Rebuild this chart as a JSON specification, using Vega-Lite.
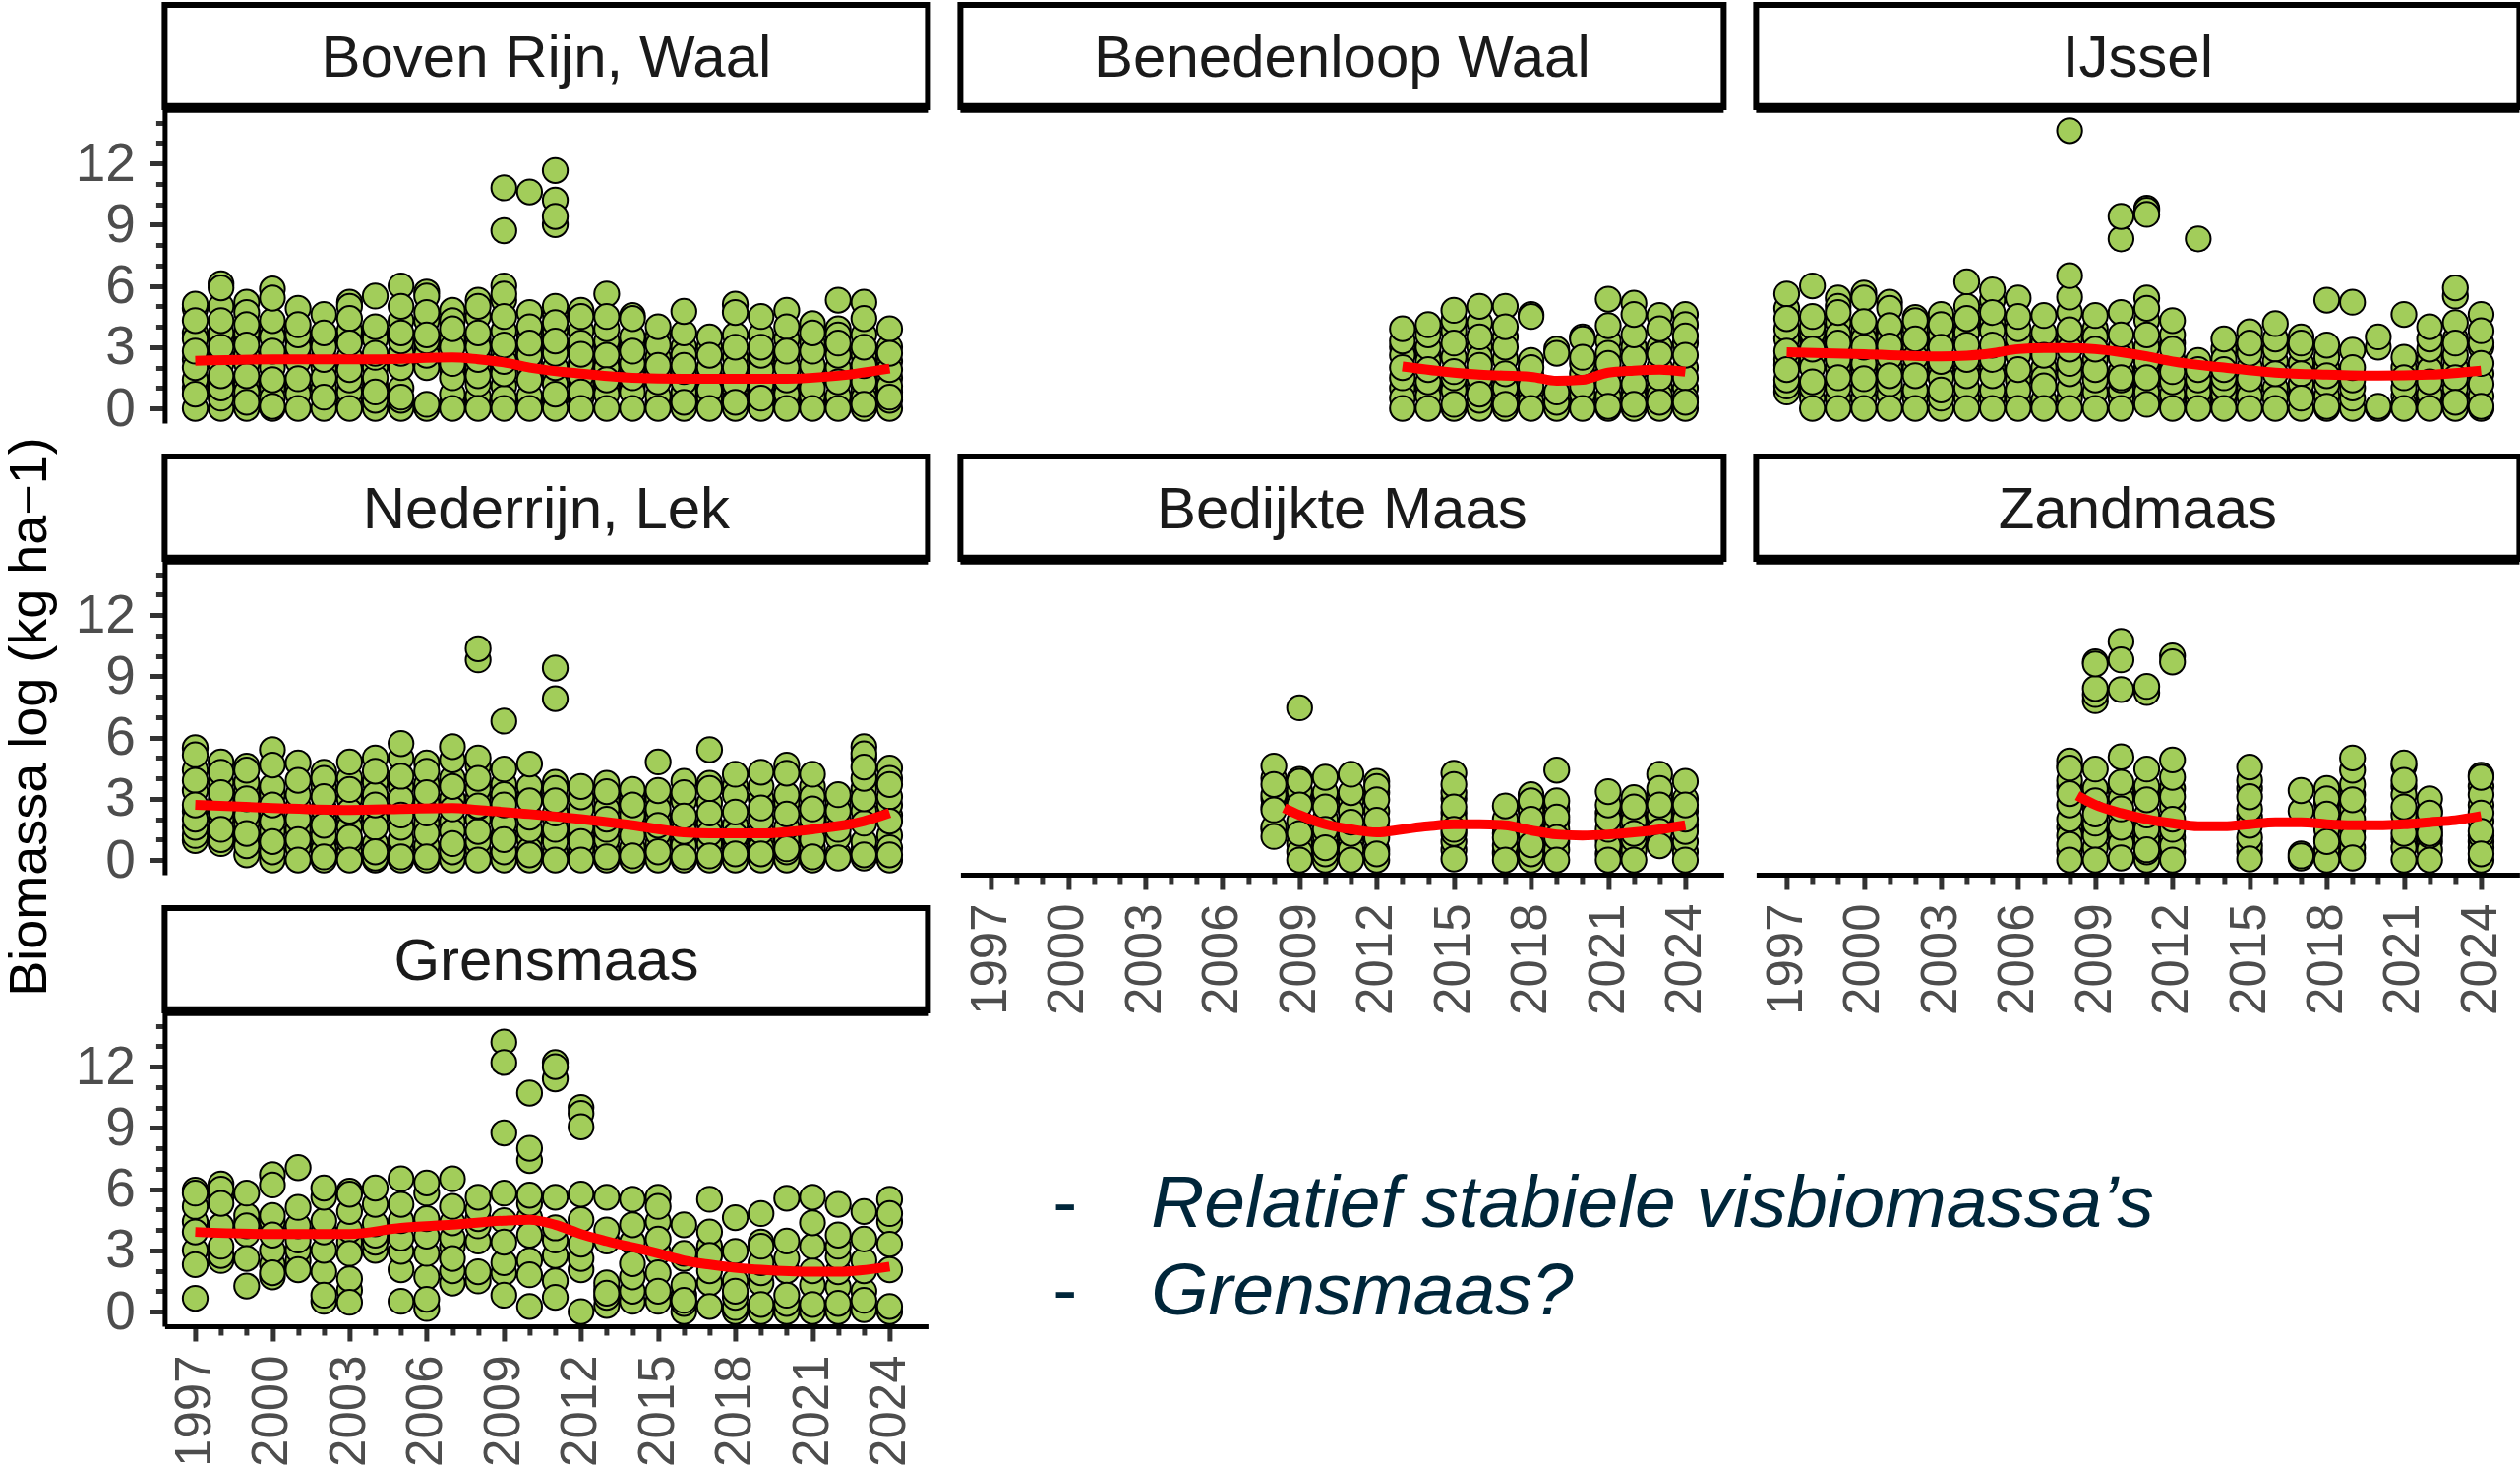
{"$schema":"https://vega.github.io/schema/vega-lite/v6.json","background":"white","padding":{"left":2.4,"top":2,"right":0,"bottom":0},"bounds":"flush","columns":3,"spacing":{"row":34,"column":33},"config":{"view":{"stroke":null},"font":"Liberation Sans"},
"datasets":{
"d1":[{"jaar":1997,"bio":1},{"jaar":1997,"bio":2.4},{"jaar":1997,"bio":3.7},{"jaar":1998,"bio":1.3},{"jaar":1998,"bio":2.6},{"jaar":1998,"bio":3.4},{"jaar":1999,"bio":1.2},{"jaar":1999,"bio":2.6},{"jaar":1999,"bio":3.4},{"jaar":2000,"bio":1},{"jaar":2000,"bio":2.4},{"jaar":2000,"bio":3.9},{"jaar":2001,"bio":1.1},{"jaar":2001,"bio":2.6},{"jaar":2001,"bio":3.3},{"jaar":2002,"bio":1},{"jaar":2002,"bio":2},{"jaar":2002,"bio":3.3},{"jaar":2003,"bio":0.3},{"jaar":2003,"bio":2.2},{"jaar":2003,"bio":3.5},{"jaar":2004,"bio":1.1},{"jaar":2004,"bio":2},{"jaar":2004,"bio":3.7},{"jaar":2005,"bio":1},{"jaar":2005,"bio":2.3},{"jaar":2005,"bio":4.3},{"jaar":2006,"bio":2.3},{"jaar":2006,"bio":3},{"jaar":2007,"bio":0.3},{"jaar":2007,"bio":1.9},{"jaar":2007,"bio":3.4},{"jaar":2008,"bio":0.3},{"jaar":2008,"bio":2},{"jaar":2008,"bio":3.4},{"jaar":2009,"bio":1.1},{"jaar":2009,"bio":2},{"jaar":2009,"bio":2.7},{"jaar":2010,"bio":0.3},{"jaar":2010,"bio":2.3},{"jaar":2010,"bio":3},{"jaar":2011,"bio":0.4},{"jaar":2011,"bio":1.6},{"jaar":2011,"bio":3},{"jaar":2012,"bio":1.2},{"jaar":2012,"bio":2},{"jaar":2012,"bio":3.8},{"jaar":2013,"bio":1},{"jaar":2013,"bio":2.3},{"jaar":2013,"bio":3},{"jaar":2014,"bio":1.1},{"jaar":2014,"bio":1.9},{"jaar":2014,"bio":3.2},{"jaar":2015,"bio":0.3},{"jaar":2015,"bio":1.7},{"jaar":2015,"bio":3.5},{"jaar":2016,"bio":0.5},{"jaar":2016,"bio":1.5},{"jaar":2016,"bio":3},{"jaar":2017,"bio":0.3},{"jaar":2017,"bio":1.5},{"jaar":2017,"bio":3},{"jaar":2018,"bio":0.8},{"jaar":2018,"bio":1.6},{"jaar":2018,"bio":2.5},{"jaar":2019,"bio":0.3},{"jaar":2019,"bio":0.8},{"jaar":2019,"bio":2.3},{"jaar":2020,"bio":0.3},{"jaar":2020,"bio":1.1},{"jaar":2020,"bio":2.5},{"jaar":2021,"bio":0.3},{"jaar":2021,"bio":1.7},{"jaar":2021,"bio":3.2},{"jaar":2022,"bio":0.3},{"jaar":2022,"bio":2},{"jaar":2022,"bio":3},{"jaar":2023,"bio":0.9},{"jaar":2023,"bio":1.7},{"jaar":2023,"bio":2.6},{"jaar":2024,"bio":0.8},{"jaar":2024,"bio":1.5},{"jaar":2024,"bio":2.3},
{"jaar":1997,"bio":0},{"jaar":1997,"bio":1.4},{"jaar":1997,"bio":2},{"jaar":1997,"bio":3.4},{"jaar":1997,"bio":4.9},{"jaar":1997,"bio":5.1},{"jaar":1997,"bio":4.3},{"jaar":1997,"bio":2.8},{"jaar":1997,"bio":0.7},
{"jaar":1998,"bio":0},{"jaar":1998,"bio":0.5},{"jaar":1998,"bio":1},{"jaar":1998,"bio":2.2},{"jaar":1998,"bio":3.7},{"jaar":1998,"bio":5},{"jaar":1998,"bio":6.1},{"jaar":1998,"bio":5.9},{"jaar":1998,"bio":4.3},{"jaar":1998,"bio":3},{"jaar":1998,"bio":1.6},
{"jaar":1999,"bio":0},{"jaar":1999,"bio":0.8},{"jaar":1999,"bio":2.2},{"jaar":1999,"bio":3.7},{"jaar":1999,"bio":5.2},{"jaar":1999,"bio":4.7},{"jaar":1999,"bio":4.1},{"jaar":1999,"bio":3.1},{"jaar":1999,"bio":1.6},{"jaar":1999,"bio":0.3},
{"jaar":2000,"bio":0},{"jaar":2000,"bio":0.5},{"jaar":2000,"bio":2},{"jaar":2000,"bio":3.5},{"jaar":2000,"bio":4.3},{"jaar":2000,"bio":5.85},{"jaar":2000,"bio":5.4},{"jaar":2000,"bio":2.8},{"jaar":2000,"bio":1.4},{"jaar":2000,"bio":0.1},
{"jaar":2001,"bio":0.7},{"jaar":2001,"bio":2.3},{"jaar":2001,"bio":3},{"jaar":2001,"bio":3.6},{"jaar":2001,"bio":4.9},{"jaar":2001,"bio":4.1},{"jaar":2001,"bio":1.45},{"jaar":2001,"bio":0},
{"jaar":2002,"bio":0},{"jaar":2002,"bio":1.5},{"jaar":2002,"bio":2.4},{"jaar":2002,"bio":3},{"jaar":2002,"bio":4.6},{"jaar":2002,"bio":3.7},{"jaar":2002,"bio":0.55},
{"jaar":2003,"bio":0.8},{"jaar":2003,"bio":1.4},{"jaar":2003,"bio":2.5},{"jaar":2003,"bio":3.8},{"jaar":2003,"bio":5.2},{"jaar":2003,"bio":5},{"jaar":2003,"bio":4.4},{"jaar":2003,"bio":3.2},{"jaar":2003,"bio":1.9},{"jaar":2003,"bio":0},
{"jaar":2004,"bio":0},{"jaar":2004,"bio":0.4},{"jaar":2004,"bio":1.5},{"jaar":2004,"bio":2.5},{"jaar":2004,"bio":3.4},{"jaar":2004,"bio":5.5},{"jaar":2004,"bio":4},{"jaar":2004,"bio":0.8},{"jaar":2004,"bio":2.7},
{"jaar":2005,"bio":0},{"jaar":2005,"bio":0.4},{"jaar":2005,"bio":2},{"jaar":2005,"bio":2.7},{"jaar":2005,"bio":3.3},{"jaar":2005,"bio":6},{"jaar":2005,"bio":5},{"jaar":2005,"bio":3.7},{"jaar":2005,"bio":0.55},
{"jaar":2006,"bio":0},{"jaar":2006,"bio":2},{"jaar":2006,"bio":2.6},{"jaar":2006,"bio":3.3},{"jaar":2006,"bio":4.3},{"jaar":2006,"bio":5.7},{"jaar":2006,"bio":5.5},{"jaar":2006,"bio":4.7},{"jaar":2006,"bio":3.6},{"jaar":2006,"bio":0.2},
{"jaar":2007,"bio":0.7},{"jaar":2007,"bio":1.5},{"jaar":2007,"bio":2.2},{"jaar":2007,"bio":3},{"jaar":2007,"bio":4.8},{"jaar":2007,"bio":4.3},{"jaar":2007,"bio":3.9},{"jaar":2007,"bio":0},
{"jaar":2008,"bio":0.6},{"jaar":2008,"bio":1.2},{"jaar":2008,"bio":1.6},{"jaar":2008,"bio":2.4},{"jaar":2008,"bio":3},{"jaar":2008,"bio":4.5},{"jaar":2008,"bio":5.3},{"jaar":2008,"bio":5},{"jaar":2008,"bio":3.7},{"jaar":2008,"bio":0},
{"jaar":2009,"bio":0.5},{"jaar":2009,"bio":1.7},{"jaar":2009,"bio":2.3},{"jaar":2009,"bio":3.8},{"jaar":2009,"bio":5.3},{"jaar":2009,"bio":6},{"jaar":2009,"bio":5.6},{"jaar":2009,"bio":4.5},{"jaar":2009,"bio":3.1},{"jaar":2009,"bio":0},{"jaar":2009,"bio":10.8},{"jaar":2009,"bio":8.7},
{"jaar":2010,"bio":0.6},{"jaar":2010,"bio":2},{"jaar":2010,"bio":2.6},{"jaar":2010,"bio":3.5},{"jaar":2010,"bio":4.7},{"jaar":2010,"bio":4},{"jaar":2010,"bio":3.2},{"jaar":2010,"bio":1.4},{"jaar":2010,"bio":0},{"jaar":2010,"bio":10.6},
{"jaar":2011,"bio":0},{"jaar":2011,"bio":1.2},{"jaar":2011,"bio":2},{"jaar":2011,"bio":2.7},{"jaar":2011,"bio":3.8},{"jaar":2011,"bio":4.6},{"jaar":2011,"bio":5},{"jaar":2011,"bio":4.2},{"jaar":2011,"bio":3.3},{"jaar":2011,"bio":0.7},{"jaar":2011,"bio":10.2},{"jaar":2011,"bio":9},{"jaar":2011,"bio":9.4},{"jaar":2011,"bio":11.65},
{"jaar":2012,"bio":0.5},{"jaar":2012,"bio":1.6},{"jaar":2012,"bio":2.2},{"jaar":2012,"bio":3.2},{"jaar":2012,"bio":4.8},{"jaar":2012,"bio":4.5},{"jaar":2012,"bio":2.65},{"jaar":2012,"bio":0.8},{"jaar":2012,"bio":0},
{"jaar":2013,"bio":0.7},{"jaar":2013,"bio":2},{"jaar":2013,"bio":3.3},{"jaar":2013,"bio":3.9},{"jaar":2013,"bio":5.6},{"jaar":2013,"bio":4.5},{"jaar":2013,"bio":2.6},{"jaar":2013,"bio":1.4},{"jaar":2013,"bio":0},
{"jaar":2014,"bio":0.8},{"jaar":2014,"bio":1.5},{"jaar":2014,"bio":2.2},{"jaar":2014,"bio":3.5},{"jaar":2014,"bio":4.55},{"jaar":2014,"bio":4.4},{"jaar":2014,"bio":2.8},{"jaar":2014,"bio":0},
{"jaar":2015,"bio":0.6},{"jaar":2015,"bio":1.3},{"jaar":2015,"bio":2.5},{"jaar":2015,"bio":3.1},{"jaar":2015,"bio":4},{"jaar":2015,"bio":2.1},{"jaar":2015,"bio":0},
{"jaar":2016,"bio":0},{"jaar":2016,"bio":0.8},{"jaar":2016,"bio":1.3},{"jaar":2016,"bio":1.8},{"jaar":2016,"bio":2.6},{"jaar":2016,"bio":3.7},{"jaar":2016,"bio":4.75},{"jaar":2016,"bio":2.1},{"jaar":2016,"bio":0.3},
{"jaar":2017,"bio":0.5},{"jaar":2017,"bio":1.1},{"jaar":2017,"bio":2},{"jaar":2017,"bio":3.5},{"jaar":2017,"bio":2.6},{"jaar":2017,"bio":0.9},{"jaar":2017,"bio":0},
{"jaar":2018,"bio":0},{"jaar":2018,"bio":0.4},{"jaar":2018,"bio":1.2},{"jaar":2018,"bio":2},{"jaar":2018,"bio":3.6},{"jaar":2018,"bio":5.1},{"jaar":2018,"bio":4.7},{"jaar":2018,"bio":3},{"jaar":2018,"bio":0.3},
{"jaar":2019,"bio":0},{"jaar":2019,"bio":1.2},{"jaar":2019,"bio":1.9},{"jaar":2019,"bio":2.6},{"jaar":2019,"bio":3.6},{"jaar":2019,"bio":4.5},{"jaar":2019,"bio":3},{"jaar":2019,"bio":0.5},
{"jaar":2020,"bio":0.7},{"jaar":2020,"bio":1.4},{"jaar":2020,"bio":2},{"jaar":2020,"bio":3.4},{"jaar":2020,"bio":4.8},{"jaar":2020,"bio":4},{"jaar":2020,"bio":2.8},{"jaar":2020,"bio":0},
{"jaar":2021,"bio":0.6},{"jaar":2021,"bio":1.3},{"jaar":2021,"bio":2.1},{"jaar":2021,"bio":2.8},{"jaar":2021,"bio":4.15},{"jaar":2021,"bio":3.7},{"jaar":2021,"bio":1},{"jaar":2021,"bio":0},
{"jaar":2022,"bio":0.6},{"jaar":2022,"bio":2.6},{"jaar":2022,"bio":3.9},{"jaar":2022,"bio":3.6},{"jaar":2022,"bio":5.3},{"jaar":2022,"bio":3.2},{"jaar":2022,"bio":1.3},{"jaar":2022,"bio":0},
{"jaar":2023,"bio":0},{"jaar":2023,"bio":0.5},{"jaar":2023,"bio":1.3},{"jaar":2023,"bio":2.1},{"jaar":2023,"bio":3.6},{"jaar":2023,"bio":5.2},{"jaar":2023,"bio":4.4},{"jaar":2023,"bio":3},{"jaar":2023,"bio":0.2},
{"jaar":2024,"bio":0},{"jaar":2024,"bio":0.4},{"jaar":2024,"bio":1.1},{"jaar":2024,"bio":1.9},{"jaar":2024,"bio":3},{"jaar":2024,"bio":3.9},{"jaar":2024,"bio":2.7},{"jaar":2024,"bio":0.55}],
"d2":[{"jaar":2013,"bio":1},{"jaar":2013,"bio":3},{"jaar":2014,"bio":1},{"jaar":2014,"bio":2.7},{"jaar":2015,"bio":1.2},{"jaar":2015,"bio":3.8},{"jaar":2016,"bio":1},{"jaar":2016,"bio":3},{"jaar":2017,"bio":1.4},{"jaar":2017,"bio":3.5},{"jaar":2018,"bio":0.8},{"jaar":2018,"bio":1.6},{"jaar":2020,"bio":0.4},{"jaar":2020,"bio":1.7},{"jaar":2021,"bio":1.7},{"jaar":2021,"bio":3.3},{"jaar":2022,"bio":0.9},{"jaar":2022,"bio":3},{"jaar":2023,"bio":1},{"jaar":2023,"bio":2},{"jaar":2024,"bio":1},{"jaar":2024,"bio":2},
{"jaar":2013,"bio":0.5},{"jaar":2013,"bio":1.5},{"jaar":2013,"bio":2.6},{"jaar":2013,"bio":3.3},{"jaar":2013,"bio":3.9},{"jaar":2013,"bio":2},{"jaar":2013,"bio":0},
{"jaar":2014,"bio":0.6},{"jaar":2014,"bio":1.3},{"jaar":2014,"bio":2.3},{"jaar":2014,"bio":3},{"jaar":2014,"bio":3.6},{"jaar":2014,"bio":4.1},{"jaar":2014,"bio":1.9},{"jaar":2014,"bio":0},
{"jaar":2015,"bio":0},{"jaar":2015,"bio":0.9},{"jaar":2015,"bio":1.5},{"jaar":2015,"bio":2.5},{"jaar":2015,"bio":4.3},{"jaar":2015,"bio":4.8},{"jaar":2015,"bio":3.2},{"jaar":2015,"bio":1.8},{"jaar":2015,"bio":0.2},
{"jaar":2016,"bio":0},{"jaar":2016,"bio":0.4},{"jaar":2016,"bio":1.5},{"jaar":2016,"bio":2.5},{"jaar":2016,"bio":4.2},{"jaar":2016,"bio":5},{"jaar":2016,"bio":3.5},{"jaar":2016,"bio":2.1},{"jaar":2016,"bio":0.7},
{"jaar":2017,"bio":0},{"jaar":2017,"bio":0.6},{"jaar":2017,"bio":1},{"jaar":2017,"bio":2.4},{"jaar":2017,"bio":3},{"jaar":2017,"bio":5},{"jaar":2017,"bio":4},{"jaar":2017,"bio":1.7},{"jaar":2017,"bio":0.2},
{"jaar":2018,"bio":0.3},{"jaar":2018,"bio":1.1},{"jaar":2018,"bio":2.35},{"jaar":2018,"bio":4.6},{"jaar":2018,"bio":4.5},{"jaar":2018,"bio":2},{"jaar":2018,"bio":0},
{"jaar":2019,"bio":0},{"jaar":2019,"bio":0.3},{"jaar":2019,"bio":0.8},{"jaar":2019,"bio":2.9},{"jaar":2019,"bio":2.7},
{"jaar":2020,"bio":0.7},{"jaar":2020,"bio":1.1},{"jaar":2020,"bio":2.2},{"jaar":2020,"bio":3.5},{"jaar":2020,"bio":3.4},{"jaar":2020,"bio":2.5},{"jaar":2020,"bio":0},
{"jaar":2021,"bio":0},{"jaar":2021,"bio":0.6},{"jaar":2021,"bio":1.2},{"jaar":2021,"bio":2.7},{"jaar":2021,"bio":4.05},{"jaar":2021,"bio":5.35},{"jaar":2021,"bio":2.2},{"jaar":2021,"bio":0.1},
{"jaar":2022,"bio":0},{"jaar":2022,"bio":0.5},{"jaar":2022,"bio":1.8},{"jaar":2022,"bio":2.5},{"jaar":2022,"bio":3.6},{"jaar":2022,"bio":5.15},{"jaar":2022,"bio":4.6},{"jaar":2022,"bio":1.2},{"jaar":2022,"bio":0.2},
{"jaar":2023,"bio":0},{"jaar":2023,"bio":0.6},{"jaar":2023,"bio":1.5},{"jaar":2023,"bio":3},{"jaar":2023,"bio":4.55},{"jaar":2023,"bio":3.9},{"jaar":2023,"bio":2.65},{"jaar":2023,"bio":0.3},
{"jaar":2024,"bio":0},{"jaar":2024,"bio":0.5},{"jaar":2024,"bio":1.5},{"jaar":2024,"bio":3.2},{"jaar":2024,"bio":4.6},{"jaar":2024,"bio":4.1},{"jaar":2024,"bio":3.55},{"jaar":2024,"bio":2.6},{"jaar":2024,"bio":0.3}],
"d3":[{"jaar":1997,"bio":2.1},{"jaar":1997,"bio":4.9},{"jaar":1998,"bio":2.5},{"jaar":1998,"bio":3.4},{"jaar":1999,"bio":0.5},{"jaar":1999,"bio":2},{"jaar":1999,"bio":4.2},{"jaar":2000,"bio":0.5},{"jaar":2000,"bio":1.8},{"jaar":2000,"bio":3.8},{"jaar":2001,"bio":2},{"jaar":2001,"bio":3.9},{"jaar":2002,"bio":0.5},{"jaar":2002,"bio":2},{"jaar":2002,"bio":3},{"jaar":2003,"bio":1.9},{"jaar":2003,"bio":3.3},{"jaar":2004,"bio":0.5},{"jaar":2004,"bio":2},{"jaar":2004,"bio":4},{"jaar":2005,"bio":0.5},{"jaar":2005,"bio":2},{"jaar":2005,"bio":4.2},{"jaar":2006,"bio":0.4},{"jaar":2006,"bio":1.4},{"jaar":2006,"bio":3},{"jaar":2007,"bio":2},{"jaar":2007,"bio":3},{"jaar":2008,"bio":0.5},{"jaar":2008,"bio":3.4},{"jaar":2009,"bio":2.4},{"jaar":2009,"bio":3.9},{"jaar":2010,"bio":0.5},{"jaar":2010,"bio":3},{"jaar":2011,"bio":1.2},{"jaar":2011,"bio":2},{"jaar":2012,"bio":0.4},{"jaar":2012,"bio":2.1},{"jaar":2012,"bio":3.2},{"jaar":2013,"bio":0.4},{"jaar":2013,"bio":1.1},{"jaar":2014,"bio":0.4},{"jaar":2014,"bio":2.9},{"jaar":2015,"bio":1},{"jaar":2016,"bio":1},{"jaar":2017,"bio":0.7},{"jaar":2018,"bio":2},{"jaar":2021,"bio":0.6},{"jaar":2022,"bio":0.4},{"jaar":2022,"bio":2.4},{"jaar":2023,"bio":3.4},{"jaar":2024,"bio":1.7},
{"jaar":1997,"bio":0.8},{"jaar":1997,"bio":1.1},{"jaar":1997,"bio":1.4},{"jaar":1997,"bio":2.4},{"jaar":1997,"bio":3.4},{"jaar":1997,"bio":3.9},{"jaar":1997,"bio":5.6},{"jaar":1997,"bio":4.4},{"jaar":1997,"bio":2.8},{"jaar":1997,"bio":1.9},
{"jaar":1998,"bio":0.5},{"jaar":1998,"bio":1},{"jaar":1998,"bio":2},{"jaar":1998,"bio":3},{"jaar":1998,"bio":3.7},{"jaar":1998,"bio":4},{"jaar":1998,"bio":6},{"jaar":1998,"bio":4.5},{"jaar":1998,"bio":2.9},{"jaar":1998,"bio":1.3},{"jaar":1998,"bio":0},
{"jaar":1999,"bio":1},{"jaar":1999,"bio":2.4},{"jaar":1999,"bio":3.6},{"jaar":1999,"bio":5.4},{"jaar":1999,"bio":5},{"jaar":1999,"bio":4.7},{"jaar":1999,"bio":3.2},{"jaar":1999,"bio":1.5},{"jaar":1999,"bio":0},
{"jaar":2000,"bio":1},{"jaar":2000,"bio":2.2},{"jaar":2000,"bio":3.4},{"jaar":2000,"bio":5.65},{"jaar":2000,"bio":5.4},{"jaar":2000,"bio":4.25},{"jaar":2000,"bio":3},{"jaar":2000,"bio":1.45},{"jaar":2000,"bio":0},
{"jaar":2001,"bio":0.7},{"jaar":2001,"bio":1.2},{"jaar":2001,"bio":2.5},{"jaar":2001,"bio":3.5},{"jaar":2001,"bio":5.2},{"jaar":2001,"bio":4.9},{"jaar":2001,"bio":4.05},{"jaar":2001,"bio":3.05},{"jaar":2001,"bio":1.6},{"jaar":2001,"bio":0},
{"jaar":2002,"bio":0.9},{"jaar":2002,"bio":2.5},{"jaar":2002,"bio":3.9},{"jaar":2002,"bio":4.45},{"jaar":2002,"bio":4.3},{"jaar":2002,"bio":3.4},{"jaar":2002,"bio":1.6},{"jaar":2002,"bio":0},
{"jaar":2003,"bio":0},{"jaar":2003,"bio":0.5},{"jaar":2003,"bio":1.5},{"jaar":2003,"bio":2.3},{"jaar":2003,"bio":3.6},{"jaar":2003,"bio":4.6},{"jaar":2003,"bio":4.1},{"jaar":2003,"bio":3},{"jaar":2003,"bio":0.9},
{"jaar":2004,"bio":1},{"jaar":2004,"bio":1.6},{"jaar":2004,"bio":2.4},{"jaar":2004,"bio":3.7},{"jaar":2004,"bio":5},{"jaar":2004,"bio":6.2},{"jaar":2004,"bio":4.4},{"jaar":2004,"bio":3.1},{"jaar":2004,"bio":0},
{"jaar":2005,"bio":0.9},{"jaar":2005,"bio":1.6},{"jaar":2005,"bio":2.4},{"jaar":2005,"bio":3.8},{"jaar":2005,"bio":5.3},{"jaar":2005,"bio":5.8},{"jaar":2005,"bio":4.7},{"jaar":2005,"bio":3.1},{"jaar":2005,"bio":0},
{"jaar":2006,"bio":0.9},{"jaar":2006,"bio":2.6},{"jaar":2006,"bio":3.4},{"jaar":2006,"bio":3.9},{"jaar":2006,"bio":5.4},{"jaar":2006,"bio":4.5},{"jaar":2006,"bio":1.9},{"jaar":2006,"bio":0},
{"jaar":2007,"bio":0.4},{"jaar":2007,"bio":1.5},{"jaar":2007,"bio":3.2},{"jaar":2007,"bio":3.7},{"jaar":2007,"bio":4.55},{"jaar":2007,"bio":2.6},{"jaar":2007,"bio":1.1},{"jaar":2007,"bio":0},
{"jaar":2008,"bio":1},{"jaar":2008,"bio":1.7},{"jaar":2008,"bio":2.2},{"jaar":2008,"bio":2.9},{"jaar":2008,"bio":4.7},{"jaar":2008,"bio":5.45},{"jaar":2008,"bio":6.5},{"jaar":2008,"bio":3.85},{"jaar":2008,"bio":0},{"jaar":2008,"bio":13.6},
{"jaar":2009,"bio":0.8},{"jaar":2009,"bio":1.4},{"jaar":2009,"bio":1.9},{"jaar":2009,"bio":3.5},{"jaar":2009,"bio":4.55},{"jaar":2009,"bio":2.9},{"jaar":2009,"bio":0},
{"jaar":2010,"bio":0.9},{"jaar":2010,"bio":1.4},{"jaar":2010,"bio":1.8},{"jaar":2010,"bio":2.5},{"jaar":2010,"bio":4.7},{"jaar":2010,"bio":3.6},{"jaar":2010,"bio":1.5},{"jaar":2010,"bio":0},{"jaar":2010,"bio":8.3},{"jaar":2010,"bio":9.4},
{"jaar":2011,"bio":0.8},{"jaar":2011,"bio":2.3},{"jaar":2011,"bio":3},{"jaar":2011,"bio":4.3},{"jaar":2011,"bio":5.4},{"jaar":2011,"bio":4.9},{"jaar":2011,"bio":3.6},{"jaar":2011,"bio":1.5},{"jaar":2011,"bio":0.2},{"jaar":2011,"bio":9.8},{"jaar":2011,"bio":9.7},{"jaar":2011,"bio":9.5},
{"jaar":2012,"bio":0.7},{"jaar":2012,"bio":1.3},{"jaar":2012,"bio":2.4},{"jaar":2012,"bio":3.6},{"jaar":2012,"bio":4.3},{"jaar":2012,"bio":2.9},{"jaar":2012,"bio":1.8},{"jaar":2012,"bio":0},
{"jaar":2013,"bio":0.8},{"jaar":2013,"bio":1.4},{"jaar":2013,"bio":2.35},{"jaar":2013,"bio":1.9},{"jaar":2013,"bio":0},{"jaar":2013,"bio":8.3},
{"jaar":2014,"bio":0.7},{"jaar":2014,"bio":1.1},{"jaar":2014,"bio":1.5},{"jaar":2014,"bio":2.4},{"jaar":2014,"bio":3.4},{"jaar":2014,"bio":1.9},{"jaar":2014,"bio":0},
{"jaar":2015,"bio":0.6},{"jaar":2015,"bio":2},{"jaar":2015,"bio":2.7},{"jaar":2015,"bio":3.75},{"jaar":2015,"bio":3.2},{"jaar":2015,"bio":1.45},{"jaar":2015,"bio":0},
{"jaar":2016,"bio":0.5},{"jaar":2016,"bio":2.3},{"jaar":2016,"bio":2.9},{"jaar":2016,"bio":3.4},{"jaar":2016,"bio":4.15},{"jaar":2016,"bio":1.7},{"jaar":2016,"bio":0},
{"jaar":2017,"bio":0},{"jaar":2017,"bio":1.2},{"jaar":2017,"bio":2.2},{"jaar":2017,"bio":2.9},{"jaar":2017,"bio":3.5},{"jaar":2017,"bio":3.2},{"jaar":2017,"bio":1.7},{"jaar":2017,"bio":0.5},
{"jaar":2018,"bio":0},{"jaar":2018,"bio":0.6},{"jaar":2018,"bio":1.2},{"jaar":2018,"bio":2.5},{"jaar":2018,"bio":3.1},{"jaar":2018,"bio":1.6},{"jaar":2018,"bio":0.1},{"jaar":2018,"bio":5.3},
{"jaar":2019,"bio":0},{"jaar":2019,"bio":0.5},{"jaar":2019,"bio":1},{"jaar":2019,"bio":1.4},{"jaar":2019,"bio":2.85},{"jaar":2019,"bio":2},{"jaar":2019,"bio":5.2},
{"jaar":2020,"bio":0},{"jaar":2020,"bio":0.1},{"jaar":2020,"bio":3},{"jaar":2020,"bio":3.5},
{"jaar":2021,"bio":0.2},{"jaar":2021,"bio":1},{"jaar":2021,"bio":2},{"jaar":2021,"bio":2.5},{"jaar":2021,"bio":1.5},{"jaar":2021,"bio":0},{"jaar":2021,"bio":4.6},
{"jaar":2022,"bio":0.7},{"jaar":2022,"bio":1.9},{"jaar":2022,"bio":2.9},{"jaar":2022,"bio":3.4},{"jaar":2022,"bio":4},{"jaar":2022,"bio":1.3},{"jaar":2022,"bio":0},
{"jaar":2023,"bio":0},{"jaar":2023,"bio":0.6},{"jaar":2023,"bio":1},{"jaar":2023,"bio":2},{"jaar":2023,"bio":2.6},{"jaar":2023,"bio":4.2},{"jaar":2023,"bio":5.5},{"jaar":2023,"bio":5.9},{"jaar":2023,"bio":3.2},{"jaar":2023,"bio":1.5},{"jaar":2023,"bio":0.3},
{"jaar":2024,"bio":0},{"jaar":2024,"bio":0.6},{"jaar":2024,"bio":1.2},{"jaar":2024,"bio":3},{"jaar":2024,"bio":3.2},{"jaar":2024,"bio":4.6},{"jaar":2024,"bio":3.8},{"jaar":2024,"bio":2.2},{"jaar":2024,"bio":0.1}],
"d4":[{"jaar":1997,"bio":2.4},{"jaar":1997,"bio":4.4},{"jaar":1998,"bio":1.2},{"jaar":1998,"bio":2},{"jaar":1998,"bio":2.9},{"jaar":1999,"bio":1},{"jaar":1999,"bio":1.8},{"jaar":1999,"bio":3.4},{"jaar":2000,"bio":1.4},{"jaar":2000,"bio":2.3},{"jaar":2000,"bio":3.2},{"jaar":2001,"bio":1.5},{"jaar":2001,"bio":2.6},{"jaar":2002,"bio":0.9},{"jaar":2002,"bio":2},{"jaar":2002,"bio":3.6},{"jaar":2003,"bio":2},{"jaar":2003,"bio":3},{"jaar":2003,"bio":4},{"jaar":2004,"bio":0.8},{"jaar":2004,"bio":2},{"jaar":2004,"bio":3.8},{"jaar":2005,"bio":0.5},{"jaar":2005,"bio":2.6},{"jaar":2005,"bio":3.6},{"jaar":2006,"bio":1.8},{"jaar":2006,"bio":2.8},{"jaar":2007,"bio":1.9},{"jaar":2007,"bio":3},{"jaar":2008,"bio":0.5},{"jaar":2008,"bio":2},{"jaar":2008,"bio":3},{"jaar":2009,"bio":2.2},{"jaar":2009,"bio":3.7},{"jaar":2010,"bio":1},{"jaar":2010,"bio":3.2},{"jaar":2011,"bio":1.2},{"jaar":2011,"bio":2},{"jaar":2012,"bio":1.2},{"jaar":2012,"bio":2},{"jaar":2013,"bio":2.9},{"jaar":2014,"bio":1.7},{"jaar":2014,"bio":3},{"jaar":2015,"bio":0.8},{"jaar":2015,"bio":2.1},{"jaar":2015,"bio":3},{"jaar":2016,"bio":1},{"jaar":2016,"bio":1.8},{"jaar":2017,"bio":1.8},{"jaar":2017,"bio":2.8},{"jaar":2018,"bio":0.9},{"jaar":2018,"bio":1.7},{"jaar":2018,"bio":3.6},{"jaar":2019,"bio":1},{"jaar":2019,"bio":3},{"jaar":2019,"bio":3.6},{"jaar":2020,"bio":1},{"jaar":2020,"bio":2.8},{"jaar":2021,"bio":1.5},{"jaar":2021,"bio":3.6},{"jaar":2022,"bio":2},{"jaar":2022,"bio":2.8},{"jaar":2023,"bio":0.5},{"jaar":2023,"bio":2.4},{"jaar":2023,"bio":3.5},{"jaar":2024,"bio":1.2},{"jaar":2024,"bio":2.2},
{"jaar":1997,"bio":0.95},{"jaar":1997,"bio":1.2},{"jaar":1997,"bio":1.6},{"jaar":1997,"bio":2},{"jaar":1997,"bio":3.4},{"jaar":1997,"bio":3.9},{"jaar":1997,"bio":5.5},{"jaar":1997,"bio":5.15},{"jaar":1997,"bio":2.7},
{"jaar":1998,"bio":0.8},{"jaar":1998,"bio":1},{"jaar":1998,"bio":2.4},{"jaar":1998,"bio":3.8},{"jaar":1998,"bio":4.8},{"jaar":1998,"bio":4.3},{"jaar":1998,"bio":3.3},{"jaar":1998,"bio":1.5},
{"jaar":1999,"bio":0.25},{"jaar":1999,"bio":0.7},{"jaar":1999,"bio":2.2},{"jaar":1999,"bio":3.8},{"jaar":1999,"bio":4.6},{"jaar":1999,"bio":4.4},{"jaar":1999,"bio":3},{"jaar":1999,"bio":1.3},
{"jaar":2000,"bio":0},{"jaar":2000,"bio":0.4},{"jaar":2000,"bio":1.9},{"jaar":2000,"bio":3.6},{"jaar":2000,"bio":5.4},{"jaar":2000,"bio":4.65},{"jaar":2000,"bio":2.7},{"jaar":2000,"bio":0.9},
{"jaar":2001,"bio":0.6},{"jaar":2001,"bio":2},{"jaar":2001,"bio":3.2},{"jaar":2001,"bio":4.75},{"jaar":2001,"bio":3.9},{"jaar":2001,"bio":1},{"jaar":2001,"bio":0},
{"jaar":2002,"bio":0},{"jaar":2002,"bio":0.5},{"jaar":2002,"bio":1.2},{"jaar":2002,"bio":2.5},{"jaar":2002,"bio":4.3},{"jaar":2002,"bio":4},{"jaar":2002,"bio":3.1},{"jaar":2002,"bio":1.7},{"jaar":2002,"bio":0.15},
{"jaar":2003,"bio":0.4},{"jaar":2003,"bio":0.9},{"jaar":2003,"bio":1.6},{"jaar":2003,"bio":2.4},{"jaar":2003,"bio":4.8},{"jaar":2003,"bio":3.45},{"jaar":2003,"bio":1.1},{"jaar":2003,"bio":0},
{"jaar":2004,"bio":0},{"jaar":2004,"bio":0.1},{"jaar":2004,"bio":1.6},{"jaar":2004,"bio":3.2},{"jaar":2004,"bio":5},{"jaar":2004,"bio":4.35},{"jaar":2004,"bio":2.7},{"jaar":2004,"bio":0.4},
{"jaar":2005,"bio":0},{"jaar":2005,"bio":1},{"jaar":2005,"bio":1.6},{"jaar":2005,"bio":3},{"jaar":2005,"bio":5},{"jaar":2005,"bio":5.7},{"jaar":2005,"bio":4.1},{"jaar":2005,"bio":2.2},{"jaar":2005,"bio":0.15},
{"jaar":2006,"bio":0},{"jaar":2006,"bio":0.7},{"jaar":2006,"bio":1.3},{"jaar":2006,"bio":2.3},{"jaar":2006,"bio":3.7},{"jaar":2006,"bio":4.75},{"jaar":2006,"bio":4.35},{"jaar":2006,"bio":3.3},{"jaar":2006,"bio":0.15},
{"jaar":2007,"bio":0},{"jaar":2007,"bio":0.4},{"jaar":2007,"bio":1.4},{"jaar":2007,"bio":2.5},{"jaar":2007,"bio":4},{"jaar":2007,"bio":4.9},{"jaar":2007,"bio":5.55},{"jaar":2007,"bio":3.6},{"jaar":2007,"bio":0.8},
{"jaar":2008,"bio":0.9},{"jaar":2008,"bio":1.4},{"jaar":2008,"bio":2.6},{"jaar":2008,"bio":3.5},{"jaar":2008,"bio":4.6},{"jaar":2008,"bio":5},{"jaar":2008,"bio":4},{"jaar":2008,"bio":2.65},{"jaar":2008,"bio":0},{"jaar":2008,"bio":9.8},{"jaar":2008,"bio":10.35},
{"jaar":2009,"bio":0},{"jaar":2009,"bio":0.4},{"jaar":2009,"bio":1.2},{"jaar":2009,"bio":1.8},{"jaar":2009,"bio":3.2},{"jaar":2009,"bio":4.45},{"jaar":2009,"bio":2.7},{"jaar":2009,"bio":1},{"jaar":2009,"bio":6.8},
{"jaar":2010,"bio":0},{"jaar":2010,"bio":0.5},{"jaar":2010,"bio":1.5},{"jaar":2010,"bio":2.1},{"jaar":2010,"bio":3.6},{"jaar":2010,"bio":4.7},{"jaar":2010,"bio":2.9},{"jaar":2010,"bio":0.25},
{"jaar":2011,"bio":0.3},{"jaar":2011,"bio":0.9},{"jaar":2011,"bio":1.5},{"jaar":2011,"bio":2.3},{"jaar":2011,"bio":3.8},{"jaar":2011,"bio":3.5},{"jaar":2011,"bio":2.9},{"jaar":2011,"bio":0},{"jaar":2011,"bio":9.4},{"jaar":2011,"bio":7.9},
{"jaar":2012,"bio":0.5},{"jaar":2012,"bio":1.6},{"jaar":2012,"bio":2.5},{"jaar":2012,"bio":3.1},{"jaar":2012,"bio":3.6},{"jaar":2012,"bio":0.9},{"jaar":2012,"bio":0},
{"jaar":2013,"bio":0},{"jaar":2013,"bio":0.5},{"jaar":2013,"bio":1},{"jaar":2013,"bio":1.5},{"jaar":2013,"bio":2.5},{"jaar":2013,"bio":3.75},{"jaar":2013,"bio":3.35},{"jaar":2013,"bio":2},{"jaar":2013,"bio":0.15},
{"jaar":2014,"bio":0},{"jaar":2014,"bio":0.6},{"jaar":2014,"bio":1.2},{"jaar":2014,"bio":2.2},{"jaar":2014,"bio":3.45},{"jaar":2014,"bio":2.7},{"jaar":2014,"bio":0.2},
{"jaar":2015,"bio":0},{"jaar":2015,"bio":1.3},{"jaar":2015,"bio":2.5},{"jaar":2015,"bio":3.4},{"jaar":2015,"bio":4.8},{"jaar":2015,"bio":1.7},{"jaar":2015,"bio":0.4},
{"jaar":2016,"bio":0},{"jaar":2016,"bio":0.7},{"jaar":2016,"bio":1.4},{"jaar":2016,"bio":2.9},{"jaar":2016,"bio":3.85},{"jaar":2016,"bio":3.3},{"jaar":2016,"bio":2.15},{"jaar":2016,"bio":0.15},
{"jaar":2017,"bio":0},{"jaar":2017,"bio":0.8},{"jaar":2017,"bio":1.3},{"jaar":2017,"bio":2.3},{"jaar":2017,"bio":3.75},{"jaar":2017,"bio":3.5},{"jaar":2017,"bio":0.2},{"jaar":2017,"bio":5.4},
{"jaar":2018,"bio":0},{"jaar":2018,"bio":0.5},{"jaar":2018,"bio":1.2},{"jaar":2018,"bio":3.2},{"jaar":2018,"bio":4.2},{"jaar":2018,"bio":2.35},{"jaar":2018,"bio":0.3},
{"jaar":2019,"bio":0},{"jaar":2019,"bio":0.6},{"jaar":2019,"bio":1.4},{"jaar":2019,"bio":2},{"jaar":2019,"bio":4.3},{"jaar":2019,"bio":2.55},{"jaar":2019,"bio":0.3},
{"jaar":2020,"bio":0},{"jaar":2020,"bio":0.4},{"jaar":2020,"bio":1.6},{"jaar":2020,"bio":3.2},{"jaar":2020,"bio":4.65},{"jaar":2020,"bio":4.25},{"jaar":2020,"bio":2.25},{"jaar":2020,"bio":0.55},
{"jaar":2021,"bio":0},{"jaar":2021,"bio":0.6},{"jaar":2021,"bio":1},{"jaar":2021,"bio":2},{"jaar":2021,"bio":3.1},{"jaar":2021,"bio":4.2},{"jaar":2021,"bio":2.5},{"jaar":2021,"bio":0.15},
{"jaar":2022,"bio":0.3},{"jaar":2022,"bio":1.1},{"jaar":2022,"bio":1.5},{"jaar":2022,"bio":2.4},{"jaar":2022,"bio":3.2},{"jaar":2022,"bio":0.1},
{"jaar":2023,"bio":0.1},{"jaar":2023,"bio":0.9},{"jaar":2023,"bio":1.8},{"jaar":2023,"bio":3},{"jaar":2023,"bio":4},{"jaar":2023,"bio":5},{"jaar":2023,"bio":5.55},{"jaar":2023,"bio":5.2},{"jaar":2023,"bio":4.55},{"jaar":2023,"bio":0.25},
{"jaar":2024,"bio":0},{"jaar":2024,"bio":0.6},{"jaar":2024,"bio":2.7},{"jaar":2024,"bio":3.1},{"jaar":2024,"bio":4.5},{"jaar":2024,"bio":4},{"jaar":2024,"bio":3.7},{"jaar":2024,"bio":1.9},{"jaar":2024,"bio":0.25}],
"d5":[{"jaar":2008,"bio":1.5},{"jaar":2008,"bio":3},{"jaar":2009,"bio":0.8},{"jaar":2009,"bio":3},{"jaar":2010,"bio":3},{"jaar":2011,"bio":0.9},{"jaar":2011,"bio":2.9},{"jaar":2012,"bio":1.5},{"jaar":2012,"bio":3.3},{"jaar":2015,"bio":1.8},{"jaar":2015,"bio":2.3},{"jaar":2017,"bio":1.3},{"jaar":2017,"bio":0.4},{"jaar":2018,"bio":1.6},{"jaar":2018,"bio":2.6},{"jaar":2019,"bio":0.9},{"jaar":2019,"bio":1.9},{"jaar":2021,"bio":1},{"jaar":2021,"bio":2.3},{"jaar":2022,"bio":0.8},{"jaar":2022,"bio":2.3},{"jaar":2023,"bio":1.9},{"jaar":2023,"bio":3.3},{"jaar":2024,"bio":1.7},{"jaar":2024,"bio":2.4},
{"jaar":2008,"bio":1.6},{"jaar":2008,"bio":2.6},{"jaar":2008,"bio":3.2},{"jaar":2008,"bio":4},{"jaar":2008,"bio":4.6},{"jaar":2008,"bio":3.7},{"jaar":2008,"bio":2.45},{"jaar":2008,"bio":1.15},
{"jaar":2009,"bio":0.4},{"jaar":2009,"bio":1.9},{"jaar":2009,"bio":3.4},{"jaar":2009,"bio":3.95},{"jaar":2009,"bio":3.85},{"jaar":2009,"bio":2.7},{"jaar":2009,"bio":1.3},{"jaar":2009,"bio":0},{"jaar":2009,"bio":7.45},
{"jaar":2010,"bio":0},{"jaar":2010,"bio":0.3},{"jaar":2010,"bio":0.8},{"jaar":2010,"bio":1.2},{"jaar":2010,"bio":2},{"jaar":2010,"bio":3.3},{"jaar":2010,"bio":4.05},{"jaar":2010,"bio":2.6},{"jaar":2010,"bio":1.5},{"jaar":2010,"bio":0.6},
{"jaar":2011,"bio":0.5},{"jaar":2011,"bio":1.3},{"jaar":2011,"bio":2.4},{"jaar":2011,"bio":3.3},{"jaar":2011,"bio":4.2},{"jaar":2011,"bio":1.85},{"jaar":2011,"bio":0},
{"jaar":2012,"bio":0},{"jaar":2012,"bio":0.5},{"jaar":2012,"bio":1.1},{"jaar":2012,"bio":2.4},{"jaar":2012,"bio":3.85},{"jaar":2012,"bio":3.6},{"jaar":2012,"bio":2.95},{"jaar":2012,"bio":1.95},{"jaar":2012,"bio":0.3},
{"jaar":2015,"bio":0.5},{"jaar":2015,"bio":0.9},{"jaar":2015,"bio":1.3},{"jaar":2015,"bio":2},{"jaar":2015,"bio":3},{"jaar":2015,"bio":3.3},{"jaar":2015,"bio":4.25},{"jaar":2015,"bio":3.7},{"jaar":2015,"bio":2.6},{"jaar":2015,"bio":1.5},{"jaar":2015,"bio":0.05},
{"jaar":2017,"bio":0.3},{"jaar":2017,"bio":0.7},{"jaar":2017,"bio":1.6},{"jaar":2017,"bio":2},{"jaar":2017,"bio":2.65},{"jaar":2017,"bio":1.1},{"jaar":2017,"bio":0},
{"jaar":2018,"bio":0},{"jaar":2018,"bio":0.3},{"jaar":2018,"bio":1.3},{"jaar":2018,"bio":2.4},{"jaar":2018,"bio":3.2},{"jaar":2018,"bio":2.9},{"jaar":2018,"bio":2},{"jaar":2018,"bio":0.75},
{"jaar":2019,"bio":0.5},{"jaar":2019,"bio":1.5},{"jaar":2019,"bio":2.5},{"jaar":2019,"bio":2.9},{"jaar":2019,"bio":2.1},{"jaar":2019,"bio":1.1},{"jaar":2019,"bio":0},{"jaar":2019,"bio":4.4},
{"jaar":2021,"bio":0.3},{"jaar":2021,"bio":0.7},{"jaar":2021,"bio":1.5},{"jaar":2021,"bio":2},{"jaar":2021,"bio":2.7},{"jaar":2021,"bio":3.35},{"jaar":2021,"bio":0},
{"jaar":2022,"bio":0.5},{"jaar":2022,"bio":1},{"jaar":2022,"bio":1.4},{"jaar":2022,"bio":1.9},{"jaar":2022,"bio":2.9},{"jaar":2022,"bio":3.05},{"jaar":2022,"bio":2.6},{"jaar":2022,"bio":1.3},{"jaar":2022,"bio":0},
{"jaar":2023,"bio":0.9},{"jaar":2023,"bio":1.6},{"jaar":2023,"bio":2.2},{"jaar":2023,"bio":3},{"jaar":2023,"bio":4.2},{"jaar":2023,"bio":3.5},{"jaar":2023,"bio":2.7},{"jaar":2023,"bio":1.4},{"jaar":2023,"bio":0.7},
{"jaar":2024,"bio":0.4},{"jaar":2024,"bio":0.9},{"jaar":2024,"bio":1.4},{"jaar":2024,"bio":2},{"jaar":2024,"bio":3},{"jaar":2024,"bio":3.85},{"jaar":2024,"bio":2.7},{"jaar":2024,"bio":0}],
"d6":[{"jaar":2008,"bio":1.6},{"jaar":2008,"bio":3.6},{"jaar":2009,"bio":3.5},{"jaar":2009,"bio":1.5},{"jaar":2010,"bio":1.2},{"jaar":2010,"bio":2.2},{"jaar":2010,"bio":3.4},{"jaar":2011,"bio":1.8},{"jaar":2011,"bio":3.2},{"jaar":2012,"bio":1.1},{"jaar":2012,"bio":3.5},{"jaar":2015,"bio":0.4},{"jaar":2015,"bio":2.1},{"jaar":2015,"bio":3.5},{"jaar":2018,"bio":1},{"jaar":2018,"bio":1.9},{"jaar":2019,"bio":0.3},{"jaar":2019,"bio":2.5},{"jaar":2021,"bio":1},{"jaar":2021,"bio":3.6},{"jaar":2022,"bio":0.9},{"jaar":2022,"bio":1.5},{"jaar":2024,"bio":0.9},{"jaar":2024,"bio":3.6},
{"jaar":2008,"bio":0.4},{"jaar":2008,"bio":1.2},{"jaar":2008,"bio":2},{"jaar":2008,"bio":2.7},{"jaar":2008,"bio":3.9},{"jaar":2008,"bio":4.6},{"jaar":2008,"bio":4.85},{"jaar":2008,"bio":4.5},{"jaar":2008,"bio":3.25},{"jaar":2008,"bio":0.75},{"jaar":2008,"bio":0},
{"jaar":2009,"bio":0.6},{"jaar":2009,"bio":1.2},{"jaar":2009,"bio":1.8},{"jaar":2009,"bio":2.6},{"jaar":2009,"bio":2.9},{"jaar":2009,"bio":4.45},{"jaar":2009,"bio":2.25},{"jaar":2009,"bio":0},{"jaar":2009,"bio":7.8},{"jaar":2009,"bio":8.1},{"jaar":2009,"bio":8.4},{"jaar":2009,"bio":9.7},{"jaar":2009,"bio":9.6},
{"jaar":2010,"bio":0.8},{"jaar":2010,"bio":1.6},{"jaar":2010,"bio":3},{"jaar":2010,"bio":3.8},{"jaar":2010,"bio":5.05},{"jaar":2010,"bio":2.5},{"jaar":2010,"bio":0.1},{"jaar":2010,"bio":10.7},{"jaar":2010,"bio":9.8},{"jaar":2010,"bio":8.35},
{"jaar":2011,"bio":0},{"jaar":2011,"bio":0.4},{"jaar":2011,"bio":1},{"jaar":2011,"bio":1.5},{"jaar":2011,"bio":2.2},{"jaar":2011,"bio":3.6},{"jaar":2011,"bio":4.45},{"jaar":2011,"bio":2.95},{"jaar":2011,"bio":0.5},{"jaar":2011,"bio":8.2},{"jaar":2011,"bio":8.5},
{"jaar":2012,"bio":0.4},{"jaar":2012,"bio":0.7},{"jaar":2012,"bio":1.5},{"jaar":2012,"bio":2.6},{"jaar":2012,"bio":3.1},{"jaar":2012,"bio":4.05},{"jaar":2012,"bio":4.9},{"jaar":2012,"bio":2},{"jaar":2012,"bio":0},{"jaar":2012,"bio":10},{"jaar":2012,"bio":9.7},
{"jaar":2015,"bio":0.7},{"jaar":2015,"bio":1.1},{"jaar":2015,"bio":1.7},{"jaar":2015,"bio":2.5},{"jaar":2015,"bio":3.9},{"jaar":2015,"bio":4.55},{"jaar":2015,"bio":3.1},{"jaar":2015,"bio":0.05},
{"jaar":2017,"bio":0.1},{"jaar":2017,"bio":0.3},{"jaar":2017,"bio":2.4},{"jaar":2017,"bio":3.4},{"jaar":2017,"bio":0.2},
{"jaar":2018,"bio":0.5},{"jaar":2018,"bio":1.5},{"jaar":2018,"bio":2.8},{"jaar":2018,"bio":3.5},{"jaar":2018,"bio":3},{"jaar":2018,"bio":2.25},{"jaar":2018,"bio":0},{"jaar":2018,"bio":0.9},
{"jaar":2019,"bio":0.6},{"jaar":2019,"bio":1.5},{"jaar":2019,"bio":2},{"jaar":2019,"bio":3.2},{"jaar":2019,"bio":3.7},{"jaar":2019,"bio":4.4},{"jaar":2019,"bio":5},{"jaar":2019,"bio":2.95},{"jaar":2019,"bio":1.1},{"jaar":2019,"bio":0.1},
{"jaar":2021,"bio":0.6},{"jaar":2021,"bio":1.7},{"jaar":2021,"bio":2.2},{"jaar":2021,"bio":3.2},{"jaar":2021,"bio":4.6},{"jaar":2021,"bio":4.75},{"jaar":2021,"bio":3.9},{"jaar":2021,"bio":2.6},{"jaar":2021,"bio":1.3},{"jaar":2021,"bio":0},
{"jaar":2022,"bio":0.5},{"jaar":2022,"bio":1.2},{"jaar":2022,"bio":1.8},{"jaar":2022,"bio":2.4},{"jaar":2022,"bio":3},{"jaar":2022,"bio":2.3},{"jaar":2022,"bio":1.3},{"jaar":2022,"bio":0},
{"jaar":2024,"bio":0},{"jaar":2024,"bio":0.6},{"jaar":2024,"bio":1.2},{"jaar":2024,"bio":1.9},{"jaar":2024,"bio":2.7},{"jaar":2024,"bio":3.2},{"jaar":2024,"bio":4.15},{"jaar":2024,"bio":4.05},{"jaar":2024,"bio":2.3},{"jaar":2024,"bio":1.4},{"jaar":2024,"bio":0.3}],
"d7":[{"jaar":1997,"bio":3},{"jaar":1997,"bio":4.4},{"jaar":1997,"bio":5.15},{"jaar":1997,"bio":5.95},{"jaar":1997,"bio":5.8},{"jaar":1997,"bio":3.9},{"jaar":1997,"bio":2.3},{"jaar":1997,"bio":0.65},
{"jaar":1998,"bio":2.5},{"jaar":1998,"bio":2.75},{"jaar":1998,"bio":4.2},{"jaar":1998,"bio":5.6},{"jaar":1998,"bio":6.25},{"jaar":1998,"bio":6},{"jaar":1998,"bio":5.3},{"jaar":1998,"bio":3.2},
{"jaar":1999,"bio":3.8},{"jaar":1999,"bio":4.4},{"jaar":1999,"bio":4.7},{"jaar":1999,"bio":5.8},{"jaar":1999,"bio":4.2},{"jaar":1999,"bio":2.6},{"jaar":1999,"bio":1.25},
{"jaar":2000,"bio":1.7},{"jaar":2000,"bio":2.3},{"jaar":2000,"bio":3},{"jaar":2000,"bio":3.9},{"jaar":2000,"bio":4.4},{"jaar":2000,"bio":4.7},{"jaar":2000,"bio":6.7},{"jaar":2000,"bio":6.2},{"jaar":2000,"bio":3.75},{"jaar":2000,"bio":1.9},
{"jaar":2001,"bio":2.5},{"jaar":2001,"bio":3},{"jaar":2001,"bio":3.5},{"jaar":2001,"bio":4.2},{"jaar":2001,"bio":5.1},{"jaar":2001,"bio":7.05},{"jaar":2001,"bio":2.05},
{"jaar":2002,"bio":0.5},{"jaar":2002,"bio":1.95},{"jaar":2002,"bio":3},{"jaar":2002,"bio":3.9},{"jaar":2002,"bio":4.45},{"jaar":2002,"bio":5.6},{"jaar":2002,"bio":6.05},{"jaar":2002,"bio":0.8},
{"jaar":2003,"bio":1.05},{"jaar":2003,"bio":1.6},{"jaar":2003,"bio":3.4},{"jaar":2003,"bio":4},{"jaar":2003,"bio":4.9},{"jaar":2003,"bio":5.9},{"jaar":2003,"bio":5.75},{"jaar":2003,"bio":2.85},{"jaar":2003,"bio":0.45},
{"jaar":2004,"bio":3},{"jaar":2004,"bio":3.4},{"jaar":2004,"bio":3.75},{"jaar":2004,"bio":4.3},{"jaar":2004,"bio":5.25},{"jaar":2004,"bio":6.05},
{"jaar":2005,"bio":2.05},{"jaar":2005,"bio":2.95},{"jaar":2005,"bio":3.6},{"jaar":2005,"bio":4.45},{"jaar":2005,"bio":5.25},{"jaar":2005,"bio":6.5},{"jaar":2005,"bio":0.5},
{"jaar":2006,"bio":0.15},{"jaar":2006,"bio":1.7},{"jaar":2006,"bio":2.85},{"jaar":2006,"bio":3.7},{"jaar":2006,"bio":4.55},{"jaar":2006,"bio":5.8},{"jaar":2006,"bio":6.3},{"jaar":2006,"bio":0.6},
{"jaar":2007,"bio":1.4},{"jaar":2007,"bio":2},{"jaar":2007,"bio":3.2},{"jaar":2007,"bio":3.6},{"jaar":2007,"bio":4.35},{"jaar":2007,"bio":5.15},{"jaar":2007,"bio":6.5},{"jaar":2007,"bio":2.6},
{"jaar":2008,"bio":1.5},{"jaar":2008,"bio":3.45},{"jaar":2008,"bio":4.2},{"jaar":2008,"bio":4.55},{"jaar":2008,"bio":5},{"jaar":2008,"bio":5.6},{"jaar":2008,"bio":1.95},
{"jaar":2009,"bio":1.9},{"jaar":2009,"bio":2.4},{"jaar":2009,"bio":4.45},{"jaar":2009,"bio":5.8},{"jaar":2009,"bio":3.4},{"jaar":2009,"bio":0.8},{"jaar":2009,"bio":13.2},{"jaar":2009,"bio":12.2},{"jaar":2009,"bio":8.75},
{"jaar":2010,"bio":2.5},{"jaar":2010,"bio":4.6},{"jaar":2010,"bio":5.3},{"jaar":2010,"bio":5.7},{"jaar":2010,"bio":3.75},{"jaar":2010,"bio":1.8},{"jaar":2010,"bio":0.25},{"jaar":2010,"bio":7.4},{"jaar":2010,"bio":8},{"jaar":2010,"bio":10.7},
{"jaar":2011,"bio":2.75},{"jaar":2011,"bio":3.5},{"jaar":2011,"bio":4.1},{"jaar":2011,"bio":5.6},{"jaar":2011,"bio":1.5},{"jaar":2011,"bio":0.7},{"jaar":2011,"bio":11.4},{"jaar":2011,"bio":12.2},{"jaar":2011,"bio":12},
{"jaar":2012,"bio":2.05},{"jaar":2012,"bio":2.6},{"jaar":2012,"bio":3.3},{"jaar":2012,"bio":4.5},{"jaar":2012,"bio":5.75},{"jaar":2012,"bio":0},{"jaar":2012,"bio":10},{"jaar":2012,"bio":9.7},{"jaar":2012,"bio":9.05},
{"jaar":2013,"bio":0.3},{"jaar":2013,"bio":0.7},{"jaar":2013,"bio":1.1},{"jaar":2013,"bio":1.4},{"jaar":2013,"bio":3.45},{"jaar":2013,"bio":4},{"jaar":2013,"bio":5.6},{"jaar":2013,"bio":0.9},
{"jaar":2014,"bio":0.5},{"jaar":2014,"bio":1},{"jaar":2014,"bio":1.7},{"jaar":2014,"bio":3.4},{"jaar":2014,"bio":5.5},{"jaar":2014,"bio":4.25},{"jaar":2014,"bio":2.35},
{"jaar":2015,"bio":0.5},{"jaar":2015,"bio":2.9},{"jaar":2015,"bio":4.4},{"jaar":2015,"bio":5.6},{"jaar":2015,"bio":5.15},{"jaar":2015,"bio":3.55},{"jaar":2015,"bio":1.9},{"jaar":2015,"bio":1},
{"jaar":2016,"bio":0},{"jaar":2016,"bio":0.4},{"jaar":2016,"bio":0.8},{"jaar":2016,"bio":1.3},{"jaar":2016,"bio":2.6},{"jaar":2016,"bio":2.85},{"jaar":2016,"bio":4.25},{"jaar":2016,"bio":0.55},
{"jaar":2017,"bio":1.4},{"jaar":2017,"bio":2},{"jaar":2017,"bio":3.2},{"jaar":2017,"bio":3.9},{"jaar":2017,"bio":2.75},{"jaar":2017,"bio":5.5},{"jaar":2017,"bio":0.25},
{"jaar":2018,"bio":0},{"jaar":2018,"bio":0.2},{"jaar":2018,"bio":0.7},{"jaar":2018,"bio":1.5},{"jaar":2018,"bio":2.95},{"jaar":2018,"bio":4.6},{"jaar":2018,"bio":1},
{"jaar":2019,"bio":0},{"jaar":2019,"bio":1.4},{"jaar":2019,"bio":1.9},{"jaar":2019,"bio":2.4},{"jaar":2019,"bio":3.4},{"jaar":2019,"bio":3.2},{"jaar":2019,"bio":4.8},{"jaar":2019,"bio":0.35},
{"jaar":2020,"bio":0},{"jaar":2020,"bio":0.4},{"jaar":2020,"bio":2},{"jaar":2020,"bio":2.6},{"jaar":2020,"bio":3.45},{"jaar":2020,"bio":5.55},{"jaar":2020,"bio":0.8},
{"jaar":2021,"bio":0},{"jaar":2021,"bio":1.3},{"jaar":2021,"bio":2},{"jaar":2021,"bio":3.2},{"jaar":2021,"bio":4.35},{"jaar":2021,"bio":5.6},{"jaar":2021,"bio":0.35},
{"jaar":2022,"bio":0},{"jaar":2022,"bio":1.2},{"jaar":2022,"bio":1.95},{"jaar":2022,"bio":2.7},{"jaar":2022,"bio":3.2},{"jaar":2022,"bio":3.75},{"jaar":2022,"bio":5.25},{"jaar":2022,"bio":0.4},
{"jaar":2023,"bio":0.1},{"jaar":2023,"bio":1},{"jaar":2023,"bio":2},{"jaar":2023,"bio":2.5},{"jaar":2023,"bio":3.55},{"jaar":2023,"bio":4.9},{"jaar":2023,"bio":0.55},
{"jaar":2024,"bio":0},{"jaar":2024,"bio":4.4},{"jaar":2024,"bio":5.5},{"jaar":2024,"bio":4.8},{"jaar":2024,"bio":3.3},{"jaar":2024,"bio":2.05},{"jaar":2024,"bio":0.25}],
"l1":[{"jaar":1997,"bio":2.33},{"jaar":2000,"bio":2.4},{"jaar":2004,"bio":2.4},{"jaar":2007,"bio":2.5},{"jaar":2008,"bio":2.4},{"jaar":2009,"bio":2.25},{"jaar":2010,"bio":2},{"jaar":2012,"bio":1.7},{"jaar":2014,"bio":1.5},{"jaar":2016,"bio":1.45},{"jaar":2018,"bio":1.45},{"jaar":2020,"bio":1.45},{"jaar":2022,"bio":1.6},{"jaar":2024,"bio":1.95}],
"l2":[{"jaar":2013,"bio":2.05},{"jaar":2015,"bio":1.75},{"jaar":2016,"bio":1.65},{"jaar":2018,"bio":1.55},{"jaar":2019,"bio":1.35},{"jaar":2020,"bio":1.4},{"jaar":2021,"bio":1.75},{"jaar":2022,"bio":1.85},{"jaar":2023,"bio":1.9},{"jaar":2024,"bio":1.8}],
"l3":[{"jaar":1997,"bio":2.75},{"jaar":2000,"bio":2.65},{"jaar":2003,"bio":2.55},{"jaar":2004,"bio":2.58},{"jaar":2005,"bio":2.7},{"jaar":2006,"bio":2.9},{"jaar":2007,"bio":2.95},{"jaar":2008,"bio":2.95},{"jaar":2009,"bio":2.9},{"jaar":2010,"bio":2.75},{"jaar":2011,"bio":2.55},{"jaar":2012,"bio":2.3},{"jaar":2014,"bio":2},{"jaar":2016,"bio":1.75},{"jaar":2018,"bio":1.65},{"jaar":2020,"bio":1.6},{"jaar":2022,"bio":1.65},{"jaar":2024,"bio":1.85}],
"l4":[{"jaar":1997,"bio":2.7},{"jaar":2000,"bio":2.55},{"jaar":2003,"bio":2.45},{"jaar":2005,"bio":2.5},{"jaar":2007,"bio":2.55},{"jaar":2008,"bio":2.45},{"jaar":2010,"bio":2.25},{"jaar":2012,"bio":2},{"jaar":2014,"bio":1.7},{"jaar":2016,"bio":1.35},{"jaar":2017,"bio":1.3},{"jaar":2018,"bio":1.3},{"jaar":2019,"bio":1.3},{"jaar":2021,"bio":1.5},{"jaar":2023,"bio":1.9},{"jaar":2024,"bio":2.3}],
"l5":[{"jaar":2008.4,"bio":2.55},{"jaar":2009,"bio":2.2},{"jaar":2010,"bio":1.75},{"jaar":2011,"bio":1.5},{"jaar":2012,"bio":1.35},{"jaar":2013,"bio":1.5},{"jaar":2014,"bio":1.65},{"jaar":2015,"bio":1.75},{"jaar":2016,"bio":1.75},{"jaar":2017,"bio":1.7},{"jaar":2018,"bio":1.45},{"jaar":2019,"bio":1.25},{"jaar":2020,"bio":1.2},{"jaar":2021,"bio":1.25},{"jaar":2022,"bio":1.35},{"jaar":2023,"bio":1.5},{"jaar":2024,"bio":1.7}],
"l6":[{"jaar":2008.3,"bio":3.15},{"jaar":2009,"bio":2.7},{"jaar":2010,"bio":2.3},{"jaar":2011,"bio":2},{"jaar":2012,"bio":1.8},{"jaar":2013,"bio":1.65},{"jaar":2014,"bio":1.65},{"jaar":2015,"bio":1.75},{"jaar":2016,"bio":1.85},{"jaar":2017,"bio":1.85},{"jaar":2018,"bio":1.75},{"jaar":2019,"bio":1.7},{"jaar":2020,"bio":1.7},{"jaar":2021,"bio":1.75},{"jaar":2022,"bio":1.85},{"jaar":2023,"bio":1.95},{"jaar":2024,"bio":2.15}],
"l7":[{"jaar":1997,"bio":3.9},{"jaar":2000,"bio":3.8},{"jaar":2003,"bio":3.8},{"jaar":2005,"bio":4.1},{"jaar":2007,"bio":4.25},{"jaar":2009,"bio":4.45},{"jaar":2010,"bio":4.5},{"jaar":2011,"bio":4.25},{"jaar":2012,"bio":3.8},{"jaar":2013,"bio":3.45},{"jaar":2015,"bio":2.85},{"jaar":2016,"bio":2.5},{"jaar":2017,"bio":2.3},{"jaar":2018,"bio":2.15},{"jaar":2019,"bio":2.05},{"jaar":2021,"bio":1.95},{"jaar":2022,"bio":1.95},{"jaar":2024,"bio":2.2}]
},
"concat":[
{"width":776,"height":425,"layer":[
{"data":{"name":"d1"},"mark":{"type":"circle","size":640,"fill":"#A2CD5A","stroke":"black","strokeWidth":2,"opacity":1},"encoding":{"x":{"field":"jaar","type":"quantitative","scale":{"domain":[1995.81,2025.49],"nice":false,"zero":false},"axis":null},"y":{"field":"bio","type":"quantitative","scale":{"domain":[-0.72,19.76],"nice":false},"axis":{"title":null,"values":[0,1,2,3,4,5,6,7,8,9,10,11,12,13,14],"labelExpr":"datum.value%3==0?datum.label:''","labelFontSize":55,"labelColor":"#4D4D4D","labelPadding":15,"labelOverlap":false,"tickColor":"#333333","tickWidth":5,"tickSize":{"condition":{"test":"datum.value%3==0","value":15},"value":9},"domainColor":"black","domainWidth":5,"grid":false}}}},
{"data":{"name":"l1"},"mark":{"type":"line","color":"#FF0000","strokeWidth":10,"interpolate":"monotone"},"encoding":{"x":{"field":"jaar","type":"quantitative","axis":null},"y":{"field":"bio","type":"quantitative","axis":{"values":[0,1,2,3,4,5,6,7,8,9,10,11,12,13,14]}}}},
{"data":{"values":[{"naam":"Boven Rijn, Waal"}]},"mark":{"type":"rect","fill":"white","stroke":"black","strokeWidth":6},"encoding":{"x":{"datum":1995.81,"type":"quantitative","axis":null},"x2":{"datum":2025.49},"y":{"datum":14.75,"type":"quantitative","axis":{"values":[0,1,2,3,4,5,6,7,8,9,10,11,12,13,14]}},"y2":{"datum":19.76}}},
{"data":{"values":[{"naam":"Boven Rijn, Waal"}]},"mark":{"type":"rule","color":"black","strokeWidth":10},"encoding":{"x":{"datum":1995.81,"type":"quantitative","axis":null},"x2":{"datum":2025.49},"y":{"datum":14.71,"type":"quantitative","axis":{"values":[0,1,2,3,4,5,6,7,8,9,10,11,12,13,14]}}}},
{"data":{"values":[{"naam":"Boven Rijn, Waal"}]},"mark":{"type":"text","fontSize":60,"color":"#1A1A1A","baseline":"middle"},"encoding":{"x":{"datum":2010.65,"type":"quantitative","axis":null},"y":{"datum":17.1,"type":"quantitative","axis":{"values":[0,1,2,3,4,5,6,7,8,9,10,11,12,13,14]}},"text":{"field":"naam"}}}
]},
{"width":776,"height":425,"layer":[
{"data":{"name":"d2"},"mark":{"type":"circle","size":640,"fill":"#A2CD5A","stroke":"black","strokeWidth":2,"opacity":1},"encoding":{"x":{"field":"jaar","type":"quantitative","scale":{"domain":[1995.81,2025.49],"nice":false,"zero":false},"axis":null},"y":{"field":"bio","type":"quantitative","scale":{"domain":[-0.72,19.76],"nice":false},"axis":null}}},
{"data":{"name":"l2"},"mark":{"type":"line","color":"#FF0000","strokeWidth":10,"interpolate":"monotone"},"encoding":{"x":{"field":"jaar","type":"quantitative","axis":null},"y":{"field":"bio","type":"quantitative","axis":null}}},
{"data":{"values":[{"naam":"Benedenloop Waal"}]},"mark":{"type":"rect","fill":"white","stroke":"black","strokeWidth":6},"encoding":{"x":{"datum":1995.81,"type":"quantitative","axis":null},"x2":{"datum":2025.49},"y":{"datum":14.75,"type":"quantitative","axis":null},"y2":{"datum":19.76}}},
{"data":{"values":[{"naam":"Benedenloop Waal"}]},"mark":{"type":"rule","color":"black","strokeWidth":10},"encoding":{"x":{"datum":1995.81,"type":"quantitative","axis":null},"x2":{"datum":2025.49},"y":{"datum":14.71,"type":"quantitative","axis":null}}},
{"data":{"values":[{"naam":"Benedenloop Waal"}]},"mark":{"type":"text","fontSize":60,"color":"#1A1A1A","baseline":"middle"},"encoding":{"x":{"datum":2010.65,"type":"quantitative","axis":null},"y":{"datum":17.1,"type":"quantitative","axis":null},"text":{"field":"naam"}}}
]},
{"width":776,"height":425,"layer":[
{"data":{"name":"d3"},"mark":{"type":"circle","size":640,"fill":"#A2CD5A","stroke":"black","strokeWidth":2,"opacity":1},"encoding":{"x":{"field":"jaar","type":"quantitative","scale":{"domain":[1995.81,2025.49],"nice":false,"zero":false},"axis":null},"y":{"field":"bio","type":"quantitative","scale":{"domain":[-0.72,19.76],"nice":false},"axis":null}}},
{"data":{"name":"l3"},"mark":{"type":"line","color":"#FF0000","strokeWidth":10,"interpolate":"monotone"},"encoding":{"x":{"field":"jaar","type":"quantitative","axis":null},"y":{"field":"bio","type":"quantitative","axis":null}}},
{"data":{"values":[{"naam":"IJssel"}]},"mark":{"type":"rect","fill":"white","stroke":"black","strokeWidth":6},"encoding":{"x":{"datum":1995.81,"type":"quantitative","axis":null},"x2":{"datum":2025.49},"y":{"datum":14.75,"type":"quantitative","axis":null},"y2":{"datum":19.76}}},
{"data":{"values":[{"naam":"IJssel"}]},"mark":{"type":"rule","color":"black","strokeWidth":10},"encoding":{"x":{"datum":1995.81,"type":"quantitative","axis":null},"x2":{"datum":2025.49},"y":{"datum":14.71,"type":"quantitative","axis":null}}},
{"data":{"values":[{"naam":"IJssel"}]},"mark":{"type":"text","fontSize":60,"color":"#1A1A1A","baseline":"middle"},"encoding":{"x":{"datum":2010.65,"type":"quantitative","axis":null},"y":{"datum":17.1,"type":"quantitative","axis":null},"text":{"field":"naam"}}}
]},
{"width":776,"height":425,"layer":[
{"data":{"name":"d4"},"mark":{"type":"circle","size":640,"fill":"#A2CD5A","stroke":"black","strokeWidth":2,"opacity":1},"encoding":{"x":{"field":"jaar","type":"quantitative","scale":{"domain":[1995.81,2025.49],"nice":false,"zero":false},"axis":null},"y":{"field":"bio","type":"quantitative","scale":{"domain":[-0.72,19.76],"nice":false},"axis":{"title":"Biomassa log (kg ha−1)","titleFont":"Liberation Sans","titleFontSize":54,"titleFontWeight":"normal","titleColor":"black","titleAngle":-90,"titleX":-121,"titleY":264,"titleBaseline":"alphabetic","values":[0,1,2,3,4,5,6,7,8,9,10,11,12,13,14],"labelExpr":"datum.value%3==0?datum.label:''","labelFontSize":55,"labelColor":"#4D4D4D","labelPadding":15,"labelOverlap":false,"tickColor":"#333333","tickWidth":5,"tickSize":{"condition":{"test":"datum.value%3==0","value":15},"value":9},"domainColor":"black","domainWidth":5,"grid":false}}}},
{"data":{"name":"l4"},"mark":{"type":"line","color":"#FF0000","strokeWidth":10,"interpolate":"monotone"},"encoding":{"x":{"field":"jaar","type":"quantitative","axis":null},"y":{"field":"bio","type":"quantitative","axis":{"values":[0,1,2,3,4,5,6,7,8,9,10,11,12,13,14]}}}},
{"data":{"values":[{"naam":"Nederrijn, Lek"}]},"mark":{"type":"rect","fill":"white","stroke":"black","strokeWidth":6},"encoding":{"x":{"datum":1995.81,"type":"quantitative","axis":null},"x2":{"datum":2025.49},"y":{"datum":14.75,"type":"quantitative","axis":{"values":[0,1,2,3,4,5,6,7,8,9,10,11,12,13,14]}},"y2":{"datum":19.76}}},
{"data":{"values":[{"naam":"Nederrijn, Lek"}]},"mark":{"type":"rule","color":"black","strokeWidth":10},"encoding":{"x":{"datum":1995.81,"type":"quantitative","axis":null},"x2":{"datum":2025.49},"y":{"datum":14.71,"type":"quantitative","axis":{"values":[0,1,2,3,4,5,6,7,8,9,10,11,12,13,14]}}}},
{"data":{"values":[{"naam":"Nederrijn, Lek"}]},"mark":{"type":"text","fontSize":60,"color":"#1A1A1A","baseline":"middle"},"encoding":{"x":{"datum":2010.65,"type":"quantitative","axis":null},"y":{"datum":17.1,"type":"quantitative","axis":{"values":[0,1,2,3,4,5,6,7,8,9,10,11,12,13,14]}},"text":{"field":"naam"}}}
]},
{"width":776,"height":425,"layer":[
{"data":{"name":"d5"},"mark":{"type":"circle","size":640,"fill":"#A2CD5A","stroke":"black","strokeWidth":2,"opacity":1},"encoding":{"x":{"field":"jaar","type":"quantitative","scale":{"domain":[1995.81,2025.49],"nice":false,"zero":false},"axis":{"title":null,"values":[1997,1998,1999,2000,2001,2002,2003,2004,2005,2006,2007,2008,2009,2010,2011,2012,2013,2014,2015,2016,2017,2018,2019,2020,2021,2022,2023,2024],"format":"d","labelExpr":"(datum.value-1997)%3==0?datum.label:''","labelFontSize":51,"labelColor":"#4D4D4D","labelPadding":14,"labelAngle":-90,"labelOverlap":false,"tickColor":"#333333","tickWidth":5,"tickSize":{"condition":{"test":"(datum.value-1997)%3==0","value":15},"value":9},"domainColor":"black","domainWidth":5,"grid":false}},"y":{"field":"bio","type":"quantitative","scale":{"domain":[-0.72,19.76],"nice":false},"axis":null}}},
{"data":{"name":"l5"},"mark":{"type":"line","color":"#FF0000","strokeWidth":10,"interpolate":"monotone"},"encoding":{"x":{"field":"jaar","type":"quantitative","axis":{"values":[1997,1998,1999,2000,2001,2002,2003,2004,2005,2006,2007,2008,2009,2010,2011,2012,2013,2014,2015,2016,2017,2018,2019,2020,2021,2022,2023,2024]}},"y":{"field":"bio","type":"quantitative","axis":null}}},
{"data":{"values":[{"naam":"Bedijkte Maas"}]},"mark":{"type":"rect","fill":"white","stroke":"black","strokeWidth":6},"encoding":{"x":{"datum":1995.81,"type":"quantitative","axis":{"values":[1997,1998,1999,2000,2001,2002,2003,2004,2005,2006,2007,2008,2009,2010,2011,2012,2013,2014,2015,2016,2017,2018,2019,2020,2021,2022,2023,2024]}},"x2":{"datum":2025.49},"y":{"datum":14.75,"type":"quantitative","axis":null},"y2":{"datum":19.76}}},
{"data":{"values":[{"naam":"Bedijkte Maas"}]},"mark":{"type":"rule","color":"black","strokeWidth":10},"encoding":{"x":{"datum":1995.81,"type":"quantitative","axis":{"values":[1997,1998,1999,2000,2001,2002,2003,2004,2005,2006,2007,2008,2009,2010,2011,2012,2013,2014,2015,2016,2017,2018,2019,2020,2021,2022,2023,2024]}},"x2":{"datum":2025.49},"y":{"datum":14.71,"type":"quantitative","axis":null}}},
{"data":{"values":[{"naam":"Bedijkte Maas"}]},"mark":{"type":"text","fontSize":60,"color":"#1A1A1A","baseline":"middle"},"encoding":{"x":{"datum":2010.65,"type":"quantitative","axis":{"values":[1997,1998,1999,2000,2001,2002,2003,2004,2005,2006,2007,2008,2009,2010,2011,2012,2013,2014,2015,2016,2017,2018,2019,2020,2021,2022,2023,2024]}},"y":{"datum":17.1,"type":"quantitative","axis":null},"text":{"field":"naam"}}}
]},
{"width":776,"height":425,"layer":[
{"data":{"name":"d6"},"mark":{"type":"circle","size":640,"fill":"#A2CD5A","stroke":"black","strokeWidth":2,"opacity":1},"encoding":{"x":{"field":"jaar","type":"quantitative","scale":{"domain":[1995.81,2025.49],"nice":false,"zero":false},"axis":{"title":null,"values":[1997,1998,1999,2000,2001,2002,2003,2004,2005,2006,2007,2008,2009,2010,2011,2012,2013,2014,2015,2016,2017,2018,2019,2020,2021,2022,2023,2024],"format":"d","labelExpr":"(datum.value-1997)%3==0?datum.label:''","labelFontSize":51,"labelColor":"#4D4D4D","labelPadding":14,"labelAngle":-90,"labelOverlap":false,"tickColor":"#333333","tickWidth":5,"tickSize":{"condition":{"test":"(datum.value-1997)%3==0","value":15},"value":9},"domainColor":"black","domainWidth":5,"grid":false}},"y":{"field":"bio","type":"quantitative","scale":{"domain":[-0.72,19.76],"nice":false},"axis":null}}},
{"data":{"name":"l6"},"mark":{"type":"line","color":"#FF0000","strokeWidth":10,"interpolate":"monotone"},"encoding":{"x":{"field":"jaar","type":"quantitative","axis":{"values":[1997,1998,1999,2000,2001,2002,2003,2004,2005,2006,2007,2008,2009,2010,2011,2012,2013,2014,2015,2016,2017,2018,2019,2020,2021,2022,2023,2024]}},"y":{"field":"bio","type":"quantitative","axis":null}}},
{"data":{"values":[{"naam":"Zandmaas"}]},"mark":{"type":"rect","fill":"white","stroke":"black","strokeWidth":6},"encoding":{"x":{"datum":1995.81,"type":"quantitative","axis":{"values":[1997,1998,1999,2000,2001,2002,2003,2004,2005,2006,2007,2008,2009,2010,2011,2012,2013,2014,2015,2016,2017,2018,2019,2020,2021,2022,2023,2024]}},"x2":{"datum":2025.49},"y":{"datum":14.75,"type":"quantitative","axis":null},"y2":{"datum":19.76}}},
{"data":{"values":[{"naam":"Zandmaas"}]},"mark":{"type":"rule","color":"black","strokeWidth":10},"encoding":{"x":{"datum":1995.81,"type":"quantitative","axis":{"values":[1997,1998,1999,2000,2001,2002,2003,2004,2005,2006,2007,2008,2009,2010,2011,2012,2013,2014,2015,2016,2017,2018,2019,2020,2021,2022,2023,2024]}},"x2":{"datum":2025.49},"y":{"datum":14.71,"type":"quantitative","axis":null}}},
{"data":{"values":[{"naam":"Zandmaas"}]},"mark":{"type":"text","fontSize":60,"color":"#1A1A1A","baseline":"middle"},"encoding":{"x":{"datum":2010.65,"type":"quantitative","axis":{"values":[1997,1998,1999,2000,2001,2002,2003,2004,2005,2006,2007,2008,2009,2010,2011,2012,2013,2014,2015,2016,2017,2018,2019,2020,2021,2022,2023,2024]}},"y":{"datum":17.1,"type":"quantitative","axis":null},"text":{"field":"naam"}}}
]},
{"width":776,"height":425,"layer":[
{"data":{"name":"d7"},"mark":{"type":"circle","size":640,"fill":"#A2CD5A","stroke":"black","strokeWidth":2,"opacity":1},"encoding":{"x":{"field":"jaar","type":"quantitative","scale":{"domain":[1995.81,2025.49],"nice":false,"zero":false},"axis":{"title":null,"values":[1997,1998,1999,2000,2001,2002,2003,2004,2005,2006,2007,2008,2009,2010,2011,2012,2013,2014,2015,2016,2017,2018,2019,2020,2021,2022,2023,2024],"format":"d","labelExpr":"(datum.value-1997)%3==0?datum.label:''","labelFontSize":51,"labelColor":"#4D4D4D","labelPadding":14,"labelAngle":-90,"labelOverlap":false,"tickColor":"#333333","tickWidth":5,"tickSize":{"condition":{"test":"(datum.value-1997)%3==0","value":15},"value":9},"domainColor":"black","domainWidth":5,"grid":false}},"y":{"field":"bio","type":"quantitative","scale":{"domain":[-0.72,19.76],"nice":false},"axis":{"title":null,"values":[0,1,2,3,4,5,6,7,8,9,10,11,12,13,14],"labelExpr":"datum.value%3==0?datum.label:''","labelFontSize":55,"labelColor":"#4D4D4D","labelPadding":15,"labelOverlap":false,"tickColor":"#333333","tickWidth":5,"tickSize":{"condition":{"test":"datum.value%3==0","value":15},"value":9},"domainColor":"black","domainWidth":5,"grid":false}}}},
{"data":{"name":"l7"},"mark":{"type":"line","color":"#FF0000","strokeWidth":10,"interpolate":"monotone"},"encoding":{"x":{"field":"jaar","type":"quantitative","axis":{"values":[1997,1998,1999,2000,2001,2002,2003,2004,2005,2006,2007,2008,2009,2010,2011,2012,2013,2014,2015,2016,2017,2018,2019,2020,2021,2022,2023,2024]}},"y":{"field":"bio","type":"quantitative","axis":{"values":[0,1,2,3,4,5,6,7,8,9,10,11,12,13,14]}}}},
{"data":{"values":[{"naam":"Grensmaas"}]},"mark":{"type":"rect","fill":"white","stroke":"black","strokeWidth":6},"encoding":{"x":{"datum":1995.81,"type":"quantitative","axis":{"values":[1997,1998,1999,2000,2001,2002,2003,2004,2005,2006,2007,2008,2009,2010,2011,2012,2013,2014,2015,2016,2017,2018,2019,2020,2021,2022,2023,2024]}},"x2":{"datum":2025.49},"y":{"datum":14.75,"type":"quantitative","axis":{"values":[0,1,2,3,4,5,6,7,8,9,10,11,12,13,14]}},"y2":{"datum":19.76}}},
{"data":{"values":[{"naam":"Grensmaas"}]},"mark":{"type":"rule","color":"black","strokeWidth":10},"encoding":{"x":{"datum":1995.81,"type":"quantitative","axis":{"values":[1997,1998,1999,2000,2001,2002,2003,2004,2005,2006,2007,2008,2009,2010,2011,2012,2013,2014,2015,2016,2017,2018,2019,2020,2021,2022,2023,2024]}},"x2":{"datum":2025.49},"y":{"datum":14.71,"type":"quantitative","axis":{"values":[0,1,2,3,4,5,6,7,8,9,10,11,12,13,14]}}}},
{"data":{"values":[{"naam":"Grensmaas"}]},"mark":{"type":"text","fontSize":60,"color":"#1A1A1A","baseline":"middle"},"encoding":{"x":{"datum":2010.65,"type":"quantitative","axis":{"values":[1997,1998,1999,2000,2001,2002,2003,2004,2005,2006,2007,2008,2009,2010,2011,2012,2013,2014,2015,2016,2017,2018,2019,2020,2021,2022,2023,2024]}},"y":{"datum":17.1,"type":"quantitative","axis":{"values":[0,1,2,3,4,5,6,7,8,9,10,11,12,13,14]}},"text":{"field":"naam"}}}
]},
{"width":776,"height":425,"layer":[
{"data":{"values":[{"tekst":"-"}]},"mark":{"type":"text","fontSize":75,"color":"#00263A","align":"left","baseline":"alphabetic"},"encoding":{"x":{"datum":1999.4,"type":"quantitative","scale":{"domain":[1995.81,2025.49],"nice":false,"zero":false},"axis":null},"y":{"datum":4.15,"type":"quantitative","scale":{"domain":[-0.72,19.76],"nice":false},"axis":null},"text":{"field":"tekst"}}},
{"data":{"values":[{"tekst":"Relatief stabiele visbiomassa’s"}]},"mark":{"type":"text","fontSize":75,"fontStyle":"italic","color":"#00263A","align":"left","baseline":"alphabetic"},"encoding":{"x":{"datum":2003.22,"type":"quantitative","axis":null},"y":{"datum":4.15,"type":"quantitative","axis":null},"text":{"field":"tekst"}}},
{"data":{"values":[{"tekst":"-"}]},"mark":{"type":"text","fontSize":75,"color":"#00263A","align":"left","baseline":"alphabetic"},"encoding":{"x":{"datum":1999.4,"type":"quantitative","axis":null},"y":{"datum":-0.15,"type":"quantitative","axis":null},"text":{"field":"tekst"}}},
{"data":{"values":[{"tekst":"Grensmaas?"}]},"mark":{"type":"text","fontSize":75,"fontStyle":"italic","color":"#00263A","align":"left","baseline":"alphabetic"},"encoding":{"x":{"datum":2003.22,"type":"quantitative","axis":null},"y":{"datum":-0.15,"type":"quantitative","axis":null},"text":{"field":"tekst"}}}
]}
]}
